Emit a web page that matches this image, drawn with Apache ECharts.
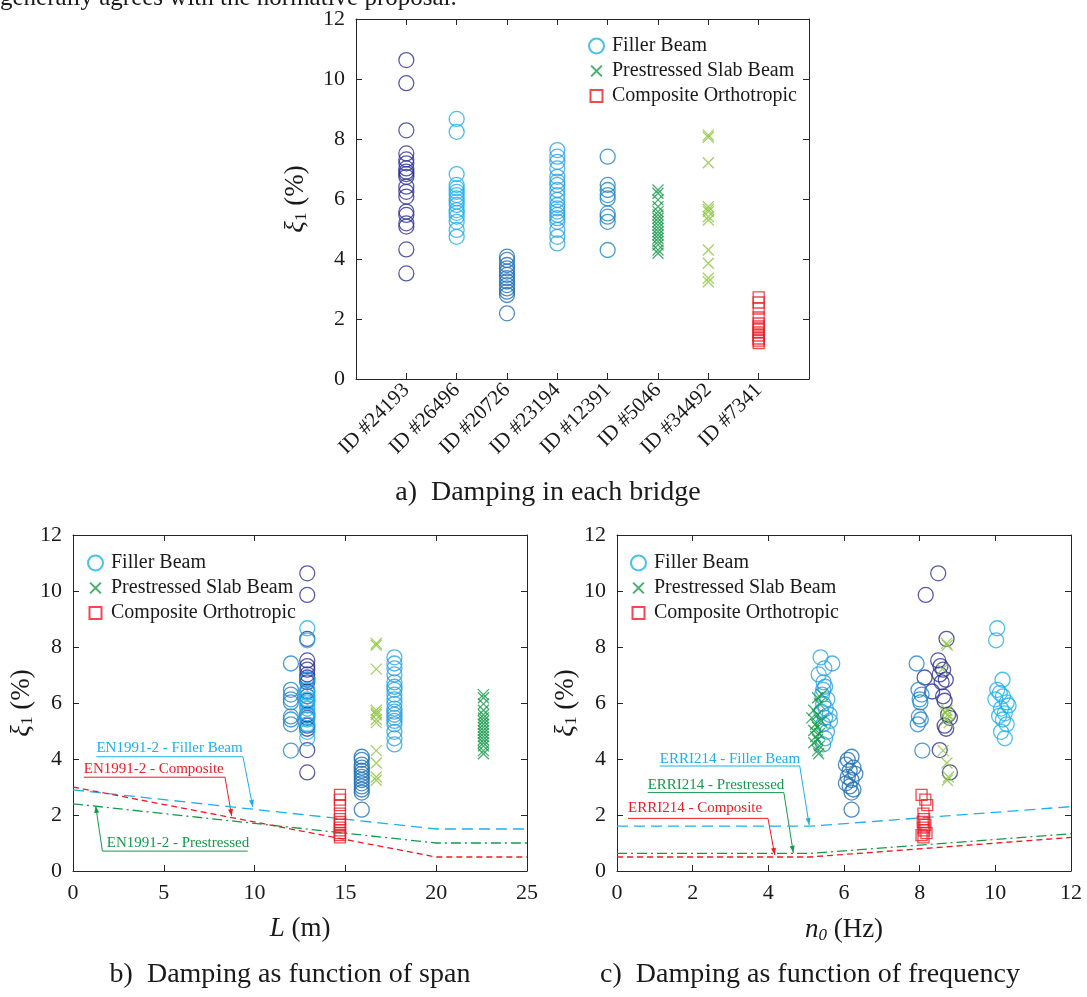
<!DOCTYPE html>
<html>
<head>
<meta charset="utf-8">
<script src="https://cdn.jsdelivr.net/npm/echarts@6/dist/echarts.min.js"></script>
<style>
  html, body { margin: 0; padding: 0; background: #fff; }
  #chart { width: 1087px; height: 997px; }
</style>
</head>
<body>
<div id="chart"></div>
<script>
// ---- data ----
const bridgeIds = ['ID #24193', 'ID #26496', 'ID #20726', 'ID #23194', 'ID #12391', 'ID #5046', 'ID #34492', 'ID #7341'];
const bridgeType = ['filler', 'filler', 'filler', 'filler', 'filler', 'prestressed', 'prestressed', 'composite'];
const spanL = [12.9, 12.9, 15.9, 17.7, 12.0, 22.6, 16.7, 14.7];

// damping xi_1 (%) and first natural frequency n0 (Hz) of every measurement
const xi24193 = [10.63, 9.86, 8.29, 7.52, 7.32, 7.19, 7.02, 6.91, 6.83, 6.74, 6.41, 6.24, 6.08, 5.58, 5.47, 5.19, 5.08, 4.32, 3.52];
const n24193  = [8.49, 8.16, 8.71, 8.49, 8.55, 8.62, 8.53, 8.13, 8.69, 8.58, 8.33, 8.62, 8.66, 8.75, 8.80, 8.66, 8.70, 8.53, 8.80];
const xi26496 = [8.67, 8.24, 6.83, 6.47, 6.36, 6.24, 6.13, 6.02, 5.91, 5.80, 5.63, 5.54, 5.41, 5.24, 4.97, 4.74];
const n26496  = [10.05, 10.02, 10.19, 10.05, 10.12, 10.2, 10.0, 10.3, 10.35, 10.15, 10.25, 10.1, 10.2, 10.3, 10.15, 10.25];
const xi20726 = [4.08, 3.97, 3.80, 3.69, 3.58, 3.47, 3.36, 3.25, 3.13, 3.02, 2.91, 2.80, 2.19];
const n20726  = [6.2, 6.1, 6.05, 6.25, 6.15, 6.3, 6.1, 6.2, 6.05, 6.15, 6.25, 6.2, 6.2];
const xi23194 = [7.63, 7.41, 7.24, 7.02, 6.74, 6.58, 6.47, 6.30, 6.13, 5.97, 5.80, 5.69, 5.58, 5.47, 5.36, 5.24, 4.97, 4.74, 4.52];
const n23194  = [5.38, 5.69, 5.48, 5.33, 5.46, 5.5, 5.45, 5.42, 5.56, 5.45, 5.52, 5.4, 5.62, 5.5, 5.63, 5.45, 5.55, 5.5, 5.45];
const xi12391 = [7.41, 6.47, 6.30, 6.13, 6.02, 5.52, 5.41, 5.24, 4.30];
const n12391  = [7.92, 7.97, 8.05, 8.0, 8.02, 7.98, 8.03, 7.95, 8.07];
const xi5046  = [6.30, 6.19, 5.97, 5.74, 5.58, 5.47, 5.36, 5.24, 5.13, 5.02, 4.91, 4.80, 4.69, 4.58, 4.47, 4.30, 4.19];
const n5046   = [5.42, 5.3, 5.35, 5.2, 5.3, 5.15, 5.4, 5.25, 5.3, 5.2, 5.35, 5.25, 5.3, 5.2, 5.35, 5.3, 5.33];
const xi34492 = [8.13, 8.06, 7.21, 5.74, 5.65, 5.58, 5.41, 5.30, 4.30, 3.86, 3.36, 3.24];
const n34492  = [8.71, 8.73, 8.6, 8.72, 8.68, 8.75, 8.7, 8.78, 8.62, 8.72, 8.76, 8.73];
const xi7341  = [2.72, 2.55, 2.35, 2.05, 1.85, 1.75, 1.65, 1.55, 1.45, 1.35, 1.28, 1.20];
const n7341   = [8.05, 8.15, 8.2, 8.1, 8.12, 8.08, 8.15, 8.1, 8.12, 8.18, 8.05, 8.1];

const bridgeXi = [xi24193, xi26496, xi20726, xi23194, xi12391, xi5046, xi34492, xi7341];
const bridgeN  = [n24193, n26496, n20726, n23194, n12391, n5046, n34492, n7341];

// normative curves (breakpoints)
const enL          = [0, 20, 25];
const enFillerXi   = [2.9, 1.5, 1.5];
const enPrestrXi   = [2.4, 1.0, 1.0];
const enCompXi     = [3.0, 0.5, 0.5];
const erriN        = [0, 5.1, 12];
const erriFillerXi = [1.6, 1.6, 2.3];
const erriPrestrXi = [0.63, 0.63, 1.33];
const erriCompXi   = [0.5, 0.5, 1.2];

// ---- styles ----
const FONT = "'Liberation Serif', 'Times New Roman', serif";
const TXT = '#1a1a1a';
const AXC = '#262626';
const BLUE = '#1cb0ea', GREEN = '#16994a', RED = '#ec1c24';
const bridgeColors = ['#2e3192', '#1cb0ea', '#1f6fb2', '#27a2e2', '#1f84c6', '#16994a', '#8dc63f', '#ec1c24'];
const CROSS = 'path://M0,0L10,10M10,0L0,10';
// same cross, padded so the legend icon is not bigger than the marks
const CROSS_LEGEND = 'path://M-2,-2L-2,-2M0,0L10,10M10,0L0,10M12,12L12,12';

function marker(type, color) {
  const it = { color: 'rgba(0,0,0,0)', borderColor: color, borderWidth: 1.3 };
  if (type === 'prestressed') return { symbol: CROSS, symbolSize: 11, itemStyle: it };
  if (type === 'composite') return { symbol: 'rect', symbolSize: 11, itemStyle: it };
  return { symbol: 'circle', symbolSize: 15, itemStyle: it };
}

const chart = echarts.init(document.getElementById('chart'));

const grids = [
  { left: 356, top: 19, width: 453, height: 360 },
  { left: 73, top: 535, width: 454, height: 336 },
  { left: 617, top: 535, width: 454, height: 336 }
];

function boxAxis(gridIndex, pos, min, max, interval, extra) {
  const main = pos === 'bottom' || pos === 'left';
  return Object.assign({
    type: 'value', gridIndex: gridIndex, position: pos, min: min, max: max, interval: interval,
    axisLine: { show: true, onZero: false, lineStyle: { color: AXC, width: 1 } },
    axisTick: { show: true, inside: true, length: 6, lineStyle: { color: AXC } },
    splitLine: { show: false },
    axisLabel: { show: main, color: TXT, fontFamily: FONT, fontSize: 22, margin: 11 }
  }, extra || {});
}

const yName = '{i|ξ}{s|1}{n| (%)}';
const yNameStyle = {
  color: TXT, fontFamily: FONT, fontSize: 27,
  rich: {
    i: { fontFamily: FONT, fontSize: 27, fontStyle: 'italic', color: TXT },
    s: { fontFamily: FONT, fontSize: 17, color: TXT, padding: [12, 0, 0, 0] },
    n: { fontFamily: FONT, fontSize: 27, color: TXT }
  }
};

const xAxis = [
  boxAxis(0, 'bottom', 0, 9, 1, {
    axisLabel: {
      show: true, rotate: 45, color: TXT, fontFamily: FONT, fontSize: 21, margin: 8,
      showMinLabel: false, showMaxLabel: false,
      formatter: function (v) { return bridgeIds[v - 1] || ''; }
    }
  }),
  boxAxis(0, 'top', 0, 9, 1),
  boxAxis(1, 'bottom', 0, 25, 5, {
    name: '{i|L}{n| (m)}', nameLocation: 'middle', nameGap: 44,
    nameTextStyle: { color: TXT, fontFamily: FONT, fontSize: 27,
      rich: { i: { fontFamily: FONT, fontSize: 27, fontStyle: 'italic', color: TXT }, n: { fontFamily: FONT, fontSize: 27, color: TXT } } }
  }),
  boxAxis(1, 'top', 0, 25, 5),
  boxAxis(2, 'bottom', 0, 12, 2, {
    name: '{i|n}{s|0}{n| (Hz)}', nameLocation: 'middle', nameGap: 44,
    nameTextStyle: { color: TXT, fontFamily: FONT, fontSize: 27,
      rich: {
        i: { fontFamily: FONT, fontSize: 27, fontStyle: 'italic', color: TXT },
        s: { fontFamily: FONT, fontSize: 17, fontStyle: 'italic', color: TXT, padding: [12, 0, 0, 0] },
        n: { fontFamily: FONT, fontSize: 27, color: TXT } } }
  }),
  boxAxis(2, 'top', 0, 12, 2)
];

const yAxis = [
  boxAxis(0, 'left', 0, 12, 2, { name: yName, nameLocation: 'middle', nameGap: 46, nameTextStyle: yNameStyle }),
  boxAxis(0, 'right', 0, 12, 2),
  boxAxis(1, 'left', 0, 12, 2, { name: yName, nameLocation: 'middle', nameGap: 30, nameTextStyle: yNameStyle }),
  boxAxis(1, 'right', 0, 12, 2),
  boxAxis(2, 'left', 0, 12, 2, { name: yName, nameLocation: 'middle', nameGap: 30, nameTextStyle: yNameStyle }),
  boxAxis(2, 'right', 0, 12, 2)
];

const series = [];
const base = { type: 'scatter', silent: true, animation: false, emphasis: { disabled: true } };

// legend-only series
const legendItems = [['Filler Beam', 'filler', BLUE], ['Prestressed Slab Beam', 'prestressed', GREEN], ['Composite Orthotropic', 'composite', RED]];
legendItems.forEach(function (d) {
  series.push(Object.assign({}, base, marker(d[1], d[2]), { name: d[0], xAxisIndex: 0, yAxisIndex: 0, data: [] }));
});

// normative lines
function normLine(xi, yi, xs, ys, color, dash) {
  series.push({
    type: 'line', silent: true, animation: false, xAxisIndex: xi, yAxisIndex: yi, symbol: 'none',
    lineStyle: { color: color, width: 1.3, type: dash },
    data: xs.map(function (x, i) { return [x, ys[i]]; }), z: 1
  });
}
normLine(2, 2, enL, enFillerXi, BLUE, [11, 6]);
normLine(2, 2, enL, enPrestrXi, GREEN, [10, 4, 2, 4]);
normLine(2, 2, enL, enCompXi, RED, [6, 4]);
normLine(4, 4, erriN, erriFillerXi, BLUE, [11, 6]);
normLine(4, 4, erriN, erriPrestrXi, GREEN, [10, 4, 2, 4]);
normLine(4, 4, erriN, erriCompXi, RED, [6, 4]);

// measured damping
bridgeIds.forEach(function (id, b) {
  const m = marker(bridgeType[b], bridgeColors[b]);
  const xi = bridgeXi[b];
  series.push(Object.assign({}, base, m, { xAxisIndex: 0, yAxisIndex: 0, z: 3,
    data: xi.map(function (v) { return [b + 1, v]; }) }));
  series.push(Object.assign({}, base, m, { xAxisIndex: 2, yAxisIndex: 2, z: 3,
    data: xi.map(function (v) { return [spanL[b], v]; }) }));
  series.push(Object.assign({}, base, m, { xAxisIndex: 4, yAxisIndex: 4, z: 3,
    data: xi.map(function (v, i) { return [bridgeN[b][i], v]; }) }));
});

function legendAt(left, top) {
  return {
    left: left, top: top, orient: 'vertical', padding: 0, itemGap: 5,
    itemWidth: 15, itemHeight: 15, selectedMode: false,
    textStyle: { color: TXT, fontFamily: FONT, fontSize: 20, padding: [0, 0, 0, 3] },
    data: legendItems.map(function (d) {
      const item = { name: d[0] };
      if (d[1] === 'prestressed') item.icon = CROSS_LEGEND;
      if (d[1] === 'composite') item.icon = 'path://M0,0L12,0L12,12L0,12Z M-1.5,-1.5L-1.5,-1.5 M13.5,13.5L13.5,13.5';
      return item;
    })
  };
}

chart.setOption({
  animation: false,
  grid: grids,
  xAxis: xAxis,
  yAxis: yAxis,
  legend: [legendAt(588, 36), legendAt(87, 553), legendAt(630, 553)],
  series: series
});

// ---- annotations and captions ----
const annB = [
  { text: 'EN1991-2 - Filler Beam', color: BLUE, at: [1.29, 4.40], path: [[1.29, 4.08], [9.36, 4.08], [9.9, 2.29]] },
  { text: 'EN1991-2 - Composite', color: RED, at: [0.59, 3.63], path: [[0.59, 3.35], [8.37, 3.35], [8.74, 1.96]] },
  { text: 'EN1991-2 - Prestressed', color: GREEN, at: [1.86, 1.01], path: [[9.62, 0.71], [1.62, 0.71], [1.25, 2.32]] }
];
const annC = [
  { text: 'ERRI214 - Filler Beam', color: BLUE, at: [1.13, 4.01], path: [[1.13, 3.75], [4.83, 3.75], [5.08, 1.64]] },
  { text: 'ERRI214 - Prestressed', color: GREEN, at: [0.81, 3.08], path: [[0.81, 2.80], [4.41, 2.80], [4.66, 0.65]] },
  { text: 'ERRI214 - Composite', color: RED, at: [0.29, 2.23], path: [[0.29, 1.88], [3.99, 1.88], [4.17, 0.57]] }
];

const graphic = [];
function addAnnotations(list, gridIndex) {
  list.forEach(function (a) {
    const t = chart.convertToPixel({ gridIndex: gridIndex }, a.at);
    const pts = a.path.map(function (p) { return chart.convertToPixel({ gridIndex: gridIndex }, p); });
    graphic.push({ type: 'text', x: t[0], y: t[1], silent: true,
      style: { text: a.text, fill: a.color, font: '15px ' + FONT, verticalAlign: 'middle' } });
    graphic.push({ type: 'polyline', silent: true, shape: { points: pts },
      style: { stroke: a.color, lineWidth: 1, fill: null } });
    const p1 = pts[pts.length - 1], p0 = pts[pts.length - 2];
    const dx = p1[0] - p0[0], dy = p1[1] - p0[1], len = Math.sqrt(dx * dx + dy * dy);
    const ux = dx / len, uy = dy / len;
    graphic.push({ type: 'polygon', silent: true,
      shape: { points: [p1, [p1[0] - ux * 7 - uy * 2.5, p1[1] - uy * 7 + ux * 2.5], [p1[0] - ux * 7 + uy * 2.5, p1[1] - uy * 7 - ux * 2.5]] },
      style: { fill: a.color } });
  });
}
addAnnotations(annB, 1);
addAnnotations(annC, 2);

function caption(text, cx, cy, size) {
  graphic.push({ type: 'text', x: cx, y: cy, silent: true,
    style: { text: text, fill: TXT, font: size + 'px ' + FONT, align: 'center', verticalAlign: 'middle' } });
}
caption('a)  Damping in each bridge', 548, 493, 28);
caption('b)  Damping as function of span', 290, 975, 28);
caption('c)  Damping as function of frequency', 810, 975, 28);
graphic.push({ type: 'text', x: 0, y: 11, silent: true,
  style: { text: 'generally agrees with the normative proposal.', fill: TXT, font: '25px ' + FONT, verticalAlign: 'bottom' } });

chart.setOption({ graphic: graphic });
</script>
</body>
</html>
